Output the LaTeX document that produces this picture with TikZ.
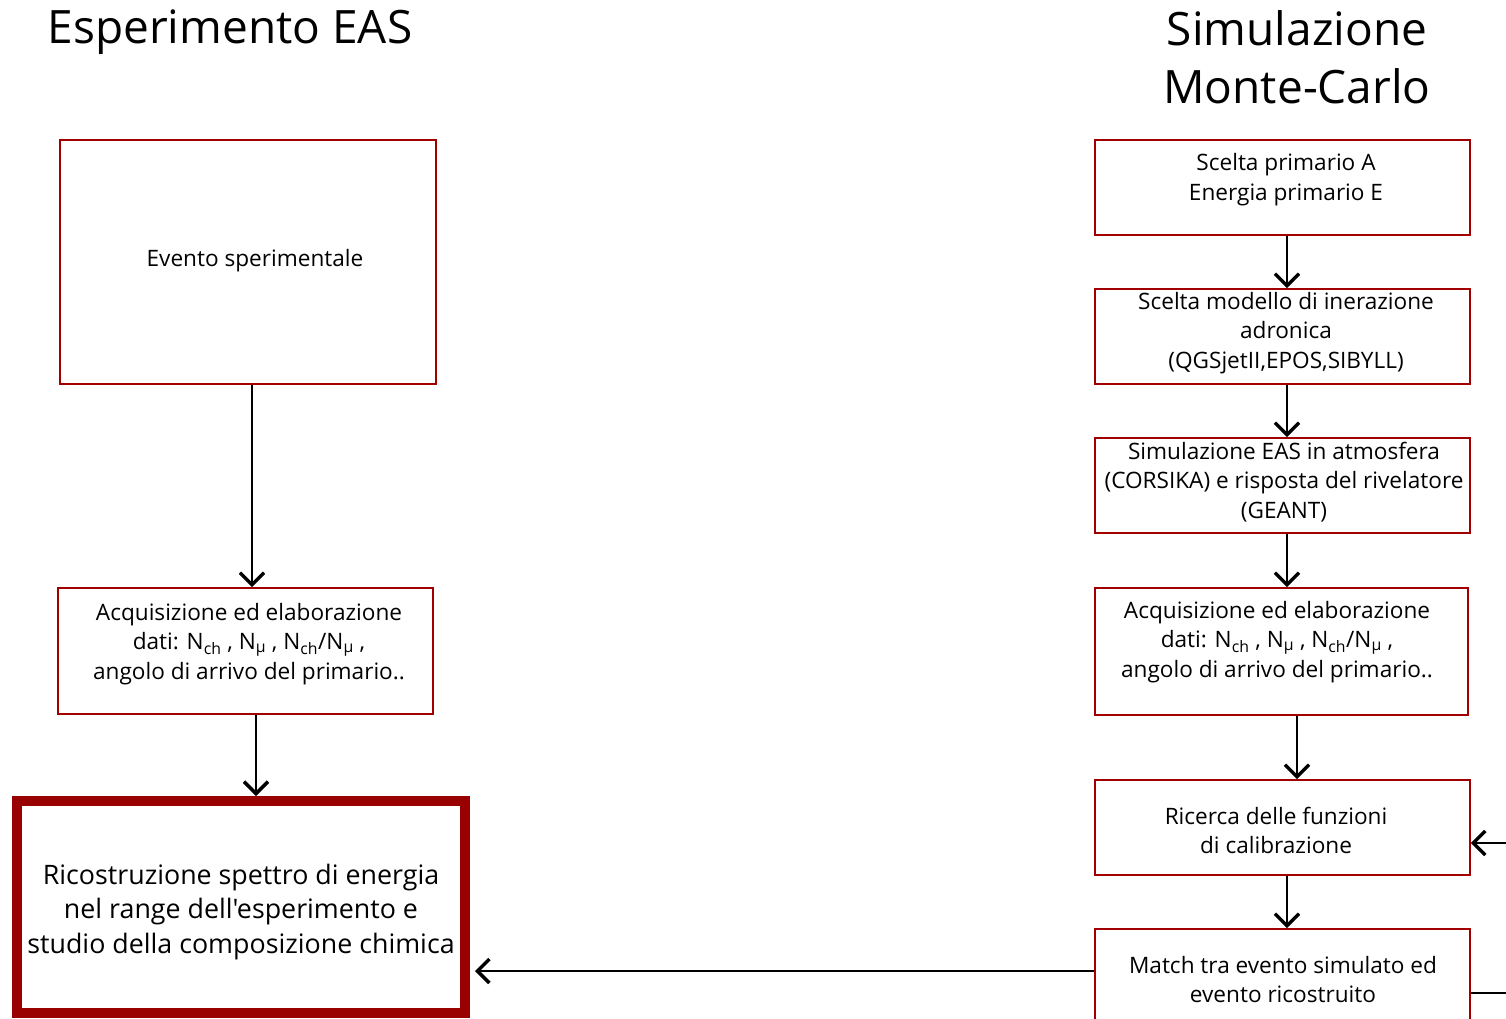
\documentclass[tikz,border=0pt]{standalone}
\usepackage{fontspec}
\setmainfont{Open Sans}[Ligatures=TeXOff]
\usetikzlibrary{arrows.meta}
\definecolor{boxred}{HTML}{A20000}
\definecolor{bigred}{HTML}{990000}
\tikzset{
  box/.style={draw=boxred, line width=1.8pt, fill=white, inner sep=0pt},
  bigbox/.style={draw=bigred, line width=10pt, fill=white, inner sep=0pt},
  txt/.style={align=center, font=\fontsize{22.6}{29.5}\selectfont, inner sep=0pt},
  bigtxt/.style={align=center, font=\fontsize{26.8}{34.5}\selectfont, inner sep=0pt},
  ttl/.style={align=center, font=\fontsize{46}{58}\selectfont, inner sep=0pt},
  conn/.style={line width=1.8pt, -{Straight Barb[length=12pt,width=24pt,line width=3.4pt]}},
  plain/.style={line width=1.8pt},
}
\begin{document}
\begin{tikzpicture}[x=1pt,y=-1pt]
\useasboundingbox (0,0) rectangle (1506,1018);
\fill[white] (0,0) rectangle (1506,1018);

% titles
\node[ttl] (t1) at (230,32) {Esperimento EAS};
\node[ttl] (t2) at (1297,57) {Simulazione\\Monte-Carlo};

% left column boxes
\node[box, minimum width=376pt, minimum height=244pt] (ev) at (248,262) {};
\node[txt] (evt) at (255,261) {Evento sperimentale};
\node[box, minimum width=375pt, minimum height=126pt] (acqL) at (245.5,651) {};
\node[txt] (acqLt) at (249,644) {Acquisizione ed elaborazione\\dati: N\textsubscript{ch} , N\textsubscript{μ} , N\textsubscript{ch}/N\textsubscript{μ} ,\\angolo di arrivo del primario..};
\node[bigbox, minimum width=448pt, minimum height=212pt] (ric) at (241,907) {};
\node[bigtxt] (rict) at (241,912) {Ricostruzione spettro di energia\\nel range dell'esperimento e\\studio della composizione chimica};

% right column boxes
\node[box, minimum width=375pt, minimum height=95pt] (sp) at (1282.5,187.5) {};
\node[txt] (spt) at (1286,179.5) {Scelta primario A\\Energia primario E};
\node[box, minimum width=375pt, minimum height=95pt] (sm) at (1282.5,336.5) {};
\node[txt] (smt) at (1286,333) {Scelta modello di inerazione\\adronica\\(QGSjetII,EPOS,SIBYLL)};
\node[box, minimum width=375pt, minimum height=95pt] (se) at (1282.5,485.5) {};
\node[txt] (set) at (1284,482) {Simulazione EAS in atmosfera\\(CORSIKA) e risposta del rivelatore\\(GEANT)};
\node[box, minimum width=373pt, minimum height=127pt] (acqR) at (1281.5,651.5) {};
\node[txt] (acqRt) at (1277,642) {Acquisizione ed elaborazione\\dati: N\textsubscript{ch} , N\textsubscript{μ} , N\textsubscript{ch}/N\textsubscript{μ} ,\\angolo di arrivo del primario..};
\node[box, minimum width=375pt, minimum height=95pt] (cal) at (1282.5,827.5) {};
\node[txt] (calt) at (1276,830.5) {Ricerca delle funzioni\\di calibrazione};
\node[box, minimum width=375pt, minimum height=120pt] (mt) at (1282.5,989) {};
\node[txt] (mtt) at (1283,979.5) {Match tra evento simulato ed\\evento ricostruito};

% connectors
\draw[conn] (ev.south -| 252,0) -- (acqL.north -| 252,0);
\draw[conn] (acqL.south -| 256,0) -- (ric.north -| 256,0);
\draw[conn] (sp.south -| 1287,0) -- (sm.north -| 1287,0);
\draw[conn] (sm.south -| 1287,0) -- (se.north -| 1287,0);
\draw[conn] (se.south -| 1287,0) -- (acqR.north -| 1287,0);
\draw[conn] (acqR.south -| 1297,0) -- (cal.north -| 1297,0);
\draw[conn] (cal.south -| 1287,0) -- (mt.north -| 1287,0);
\coordinate (inR) at (1506,843);
\coordinate (outR) at (1506,993);
\draw[conn] (inR) -- (cal.east |- inR);
\draw[plain] (mt.east |- outR) -- (outR);
\draw[conn] (mt.west |- 0,971) -- ([xshift=5pt]ric.east |- 0,971);
\end{tikzpicture}
\end{document}
